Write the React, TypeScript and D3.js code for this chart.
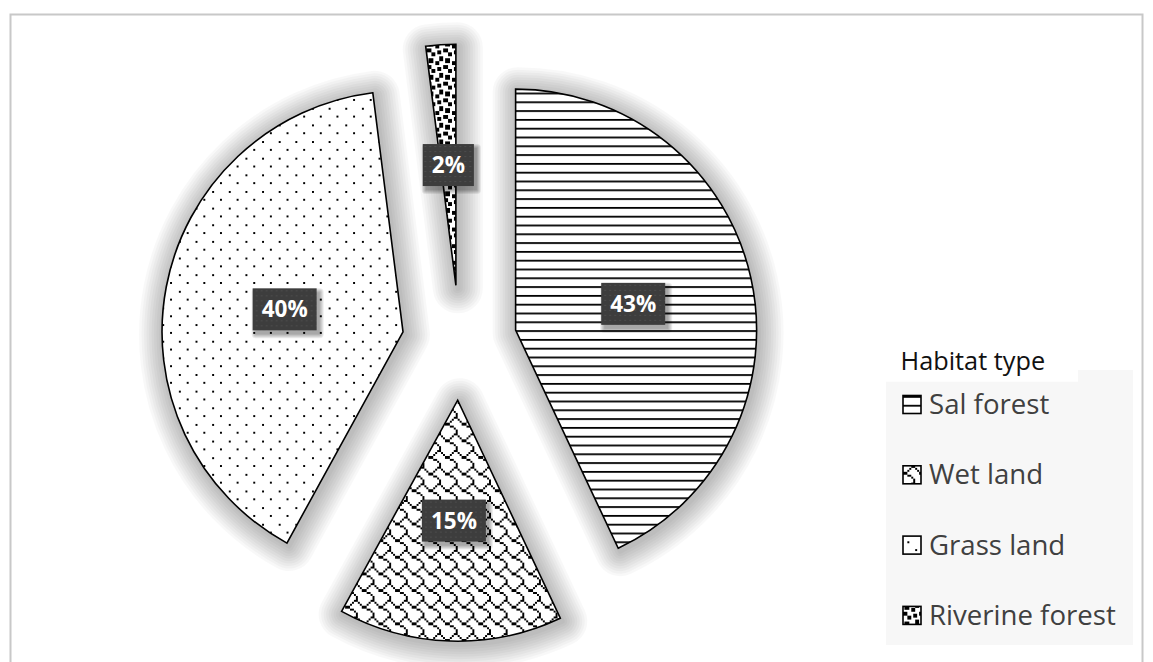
import React, { useEffect, useRef } from 'react';
import * as d3 from 'd3';

const categories = ['Sal forest', 'Wet land', 'Grass land', 'Riverine forest'];
const values = [43, 15, 40, 2];
const legendTitle = 'Habitat type';

const W = 1153;
const H = 662;
const CX = 459.5;
const CY = 342.7;
const R = 241;
const EXPLODE = 57.5;
const PX = 2.08;

// 8x8 hatch bitmaps (style only)
const BITMAPS: Record<string, number[]> = {
  wet: [0x03, 0x84, 0x48, 0x30, 0x0c, 0x02, 0x01, 0x01],
  grass: [0x80, 0, 0, 0, 0x08, 0, 0, 0],
  riverine: [0x8d, 0x0c, 0xc0, 0xd8, 0x1b, 0x03, 0x30, 0xb1],
};
const fills = ['url(#p-sal)', 'url(#p-wet)', 'url(#p-grass)', 'url(#p-riverine)'];

export default function App() {
  const ref = useRef<SVGSVGElement>(null);

  useEffect(() => {
    const svg = d3.select(ref.current);
    svg.selectAll('*').remove();
    const defs = svg.append('defs');

    const addBitmap = (id: string, bits: number[], s: number) => {
      const p = defs.append('pattern').attr('id', id).attr('patternUnits', 'userSpaceOnUse')
        .attr('width', 8 * s).attr('height', 8 * s);
      p.append('rect').attr('width', 8 * s).attr('height', 8 * s).attr('fill', '#fff');
      bits.forEach((b, row) => {
        for (let col = 0; col < 8; col++) {
          if (b & (0x80 >> col)) {
            p.append('rect').attr('x', col * s).attr('y', row * s).attr('width', s).attr('height', s)
              .attr('fill', '#000').attr('shape-rendering', 'crispEdges');
          }
        }
      });
    };
    addBitmap('p-wet', BITMAPS.wet, PX);
    addBitmap('p-grass', BITMAPS.grass, PX);
    addBitmap('p-riverine', BITMAPS.riverine, PX);
    const ps = defs.append('pattern').attr('id', 'p-sal').attr('patternUnits', 'userSpaceOnUse')
      .attr('width', 10).attr('height', 8.8);
    ps.append('rect').attr('width', 10).attr('height', 8.8).attr('fill', '#fff');
    ps.append('rect').attr('y', 0).attr('width', 10).attr('height', 1.8).attr('fill', '#000');

    const lt = defs.append('pattern').attr('id', 'p-lbl').attr('patternUnits', 'userSpaceOnUse')
      .attr('width', 5).attr('height', 5);
    lt.append('rect').attr('width', 5).attr('height', 5).attr('fill', '#3d3d3d');
    lt.append('rect').attr('x', 1).attr('y', 1).attr('width', 2).attr('height', 1).attr('fill', '#4c4c4c');

    // frame
    svg.append('rect').attr('x', 10.5).attr('y', 14.5).attr('width', 1132).attr('height', 700)
      .attr('fill', '#fff').attr('stroke', '#c8c8c8').attr('stroke-width', 2);

    const pie = d3.pie<number>().sort(null).value((d) => d);
    const arcs = pie(values);
    const arc = d3.arc<d3.PieArcDatum<number>>().innerRadius(0).outerRadius(R);
    const off = (a: d3.PieArcDatum<number>) => {
      const m = (a.startAngle + a.endAngle) / 2;
      return [CX + EXPLODE * Math.sin(m), CY - EXPLODE * Math.cos(m)];
    };

    // soft shadows built from stacked translucent strokes
    const LAYERS = 10;
    arcs.forEach((a) => {
      const [x, y] = off(a);
      const g = svg.append('g').attr('transform', `translate(${x + 2},${y + 3})`);
      for (let k = LAYERS; k >= 1; k--) {
        g.append('path').attr('d', arc(a)!)
          .attr('fill', 'none').attr('stroke', '#000').attr('stroke-opacity', 0.028)
          .attr('stroke-width', k * 5).attr('stroke-linejoin', 'round');
      }
    });

    // slices
    arcs.forEach((a, i) => {
      const [x, y] = off(a);
      svg.append('path').attr('d', arc(a)!).attr('transform', `translate(${x},${y})`)
        .attr('fill', fills[i]).attr('stroke', '#000').attr('stroke-width', 1.6)
        .attr('stroke-linejoin', 'miter');
    });

    // labels
    const total = d3.sum(values);
    arcs.forEach((a) => {
      const [x, y] = off(a);
      const [lx0, ly0] = arc.centroid(a);
      const g = svg.append('g').attr('transform', `translate(${x + lx0},${y + ly0})`);
      const sh = g.append('g');
      const br = g.append('rect').attr('fill', 'url(#p-lbl)');
      const t = g.append('text').attr('text-anchor', 'middle').attr('dy', '0.36em')
        .attr('font-family', '"Open Sans", sans-serif').attr('font-weight', 'bold')
        .attr('font-size', 22.5).attr('fill', '#fff')
        .text(`${d3.format('.0f')((a.value / total) * 100)}%`);
      const tw = (t.node() as SVGTextElement).getComputedTextLength();
      const bw = tw + 18;
      const bh = 42;
      br.attr('x', -bw / 2).attr('y', -bh / 2).attr('width', bw).attr('height', bh);
      for (let k = 4; k >= 0; k--) {
        sh.append('rect').attr('x', -bw / 2 + 3 - k).attr('y', -bh / 2 + 4 - k)
          .attr('width', bw + 2 * k).attr('height', bh + 2 * k).attr('rx', k)
          .attr('fill', '#000').attr('fill-opacity', 0.08);
      }
    });

    // legend
    svg.append('rect').attr('x', 886).attr('y', 370).attr('width', 247).attr('height', 275).attr('fill', '#f7f7f7');
    svg.append('rect').attr('x', 886).attr('y', 340).attr('width', 192).attr('height', 41.7).attr('fill', '#fff');
    svg.append('text').attr('x', 900.5).attr('y', 370).attr('font-family', '"Open Sans", sans-serif')
      .attr('font-size', 25.3).attr('fill', '#111').text(legendTitle);
    categories.forEach((c, i) => {
      const base = 414 + i * 70.3;
      svg.append('rect').attr('x', 903).attr('y', base - 18.5).attr('width', 18).attr('height', 18)
        .attr('fill', fills[i]).attr('stroke', '#000').attr('stroke-width', 1.6);
      svg.append('text').attr('x', 929).attr('y', base).attr('font-family', '"Open Sans", sans-serif')
        .attr('font-size', 27.6).attr('fill', '#404040').text(c);
    });
  }, []);

  return (
    <svg ref={ref} width={W} height={H} style={{ position: 'absolute', left: 0, top: 0, display: 'block' }} />
  );
}
